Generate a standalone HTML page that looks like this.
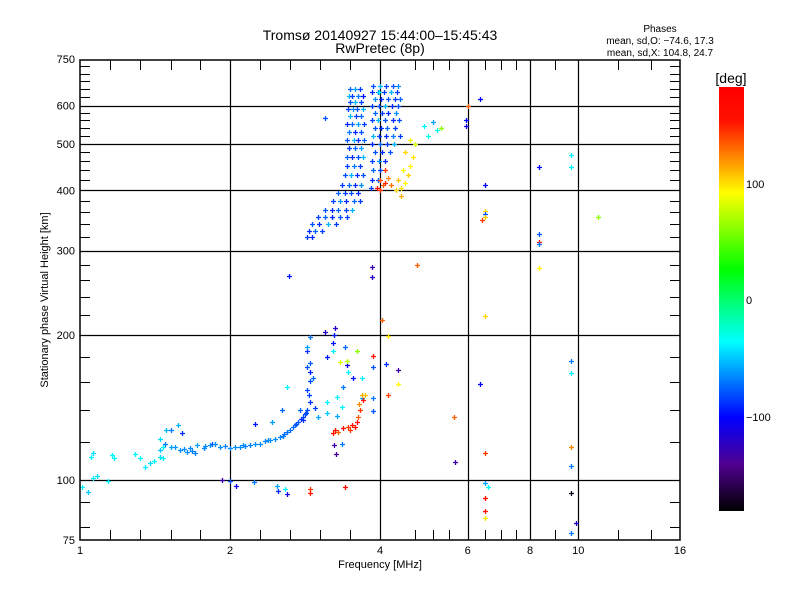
<!DOCTYPE html>
<html><head><meta charset="utf-8"><style>
body{margin:0;background:#fff;}
svg{display:block;font-family:"Liberation Sans",sans-serif;}
</style></head><body>
<svg id="chart" width="800" height="600" viewBox="0 0 800 600">
<defs>
<linearGradient id="cb" x1="0" y1="0" x2="0" y2="1">
<stop offset="0" stop-color="#ff0000"/><stop offset="0.08" stop-color="#ff1000"/>
<stop offset="0.25" stop-color="#ffff00"/><stop offset="0.43" stop-color="#00ff00"/>
<stop offset="0.60" stop-color="#00ffff"/><stop offset="0.78" stop-color="#0000ff"/>
<stop offset="0.89" stop-color="#500090"/><stop offset="1" stop-color="#000000"/>
</linearGradient>
</defs>
<text x="380" y="40" text-anchor="middle" font-size="14">Tromsø 20140927 15:44:00–15:45:43</text>
<text x="380" y="53" text-anchor="middle" font-size="14">RwPretec (8p)</text>
<g font-size="10" text-anchor="middle">
<text x="660" y="32">Phases</text>
<text x="660" y="44">mean, sd,O: −74.6, 17.3</text>
<text x="660" y="56">mean, sd,X: 104.8, 24.7</text>
</g>
<g id="grid"></g>
<g id="marks"></g>
<rect x="80" y="60" width="600" height="480" fill="none" stroke="#000" stroke-width="1.5"/>
<g id="ticks"></g>
<text x="380" y="568" text-anchor="middle" font-size="11">Frequency [MHz]</text>
<text transform="translate(48,300) rotate(-90)" text-anchor="middle" font-size="11">Stationary phase Virtual Height [km]</text>
<rect x="719" y="87" width="25" height="424" fill="url(#cb)"/>
<text x="731" y="83" text-anchor="middle" font-size="14">[deg]</text>
<g font-size="11">
<text x="746" y="188">100</text><text x="746" y="304">0</text><text x="746" y="421">−100</text>
</g>
</svg>
<script>
const xTicks=[1,2,4,6,8,10,16];
const xGrid=[2,4,6,8,10];
const yTicks=[75,100,200,300,400,500,600,750];
const yGrid=[100,200,300,400,500,600];
const lowTrace=[[1.009,96.7,-40],[1.04,94.4,-50],[1.06,101,-40],[1.08,102,-45],[1.14,99.5,-40],[1.05,111.6,-40],[1.06,113.8,-45],[1.16,112.7,-40],[1.17,111,-35],[1.29,113,-40],[1.32,111,-35],[1.35,106.4,-40],[1.38,108.5,-45],[1.41,109.5,-40],[1.45,111.6,-45],[1.47,111,-40],[1.45,115.4,-50],[1.47,117,-40],[1.45,121.7,-45],[1.48,119,-70],[1.49,127,-55],[1.52,127,-70],[1.57,130,-55],[1.60,125,-90],[1.52,117,-60],[1.55,117,-62],[1.59,115.4,-65],[1.64,114.3,-65],[1.70,113.8,-68],[1.72,118,-60],[1.77,116.5,-68],[1.84,119,-80],[1.91,117,-65],[2.0,116.5,-65],[2.09,117,-65],[2.19,118,-68],[2.30,119,-65],[2.41,121,-65],[2.52,123,-68],[2.60,126,-72],[2.67,129,-72],[2.74,132,-78],[2.80,135,-82],[2.86,140,-82],[2.89,145,-88],[2.86,154,-82],[2.89,161,-82],[2.89,168,-92],[2.89,175,-78],[2.86,185,-88],[2.86,189,-60],[2.89,198,-70],[2.80,133,-88],[2.76,140,-75],[1.62,116,-65],[1.68,115,-68],[1.78,117.6,-65],[1.87,119,-65],[1.95,117.6,-68],[2.05,117,-65],[2.14,117.6,-68],[2.24,119,-65],[2.35,120.5,-68],[2.46,121.7,-65],[2.57,124.6,-72],[2.64,127,-72],[2.71,131,-82],[2.78,134,-88],[2.83,137,-82],[1.66,116.5,-66],[1.82,118,-66],[2.12,118,-66],[2.38,121,-66],[2.55,123.5,-70],[2.70,130,-75],[2.84,138,-80],[2.88,150,-85],[2.86,172,-80]];
const lowScatter=[[2.24,131,-95],[2.43,132,-60],[2.54,140,-75],[2.60,156,-40],[2.93,163,-75],[2.96,141,-85],[3.0,135,-60],[3.13,138,-50],[3.13,145,-40],[3.13,180,-95],[3.22,185,-40],[3.22,193,-95],[3.25,207,-120],[3.40,189,-75],[3.45,168,-40],[3.43,173,-110],[3.53,163,-95],[3.68,163,-40],[3.68,148,-60],[3.28,136,-60],[3.36,142,-40],[3.37,156,-70],[3.28,149,-40],[3.23,118,-130],[3.26,113,-135],[3.36,119,-70],[3.10,203,-120],[3.23,200,-95],[1.93,100,-130],[2.0,99.5,-80],[2.06,97,-110],[2.23,99,-70],[2.48,97,-60],[2.50,95,-90],[2.58,95.8,-40],[2.60,93.5,-110],[4.12,174,-90],[4.34,169,-130],[3.87,172,-80],[3.87,148,-70],[3.87,139,-80],[2.63,266,-95],[3.85,277,-130],[3.85,264,-120]];
const lowXTrace=[[3.22,125,150],[3.30,126,130],[3.37,128,160],[3.45,129,140],[3.51,130,150],[3.60,132,160],[3.61,135,130],[3.65,140,140],[3.70,147,150],[3.63,144,120],[3.68,150,110],[3.73,150,105],[3.60,185,60],[3.33,176,80],[3.43,177,70],[3.40,96.7,170],[2.90,95.8,140],[2.90,94,150],[3.25,127,155],[3.48,127,140],[3.56,129,150],[4.03,215,130],[4.16,199,95],[4.34,158,90],[4.16,150,140],[3.87,181,150]];
const fLayerO=[[3.48,650,-75],[3.56,650,-60],[3.64,650,-85],[3.46,630,-55],[3.52,630,-85],[3.62,630,-70],[3.70,630,-95],[3.48,610,-80],[3.56,610,-55],[3.66,610,-85],[3.45,590,-85],[3.53,590,-65],[3.60,590,-80],[3.70,590,-55],[3.48,570,-55],[3.58,570,-85],[3.66,570,-75],[3.44,550,-90],[3.52,550,-75],[3.62,550,-60],[3.72,550,-85],[3.47,530,-70],[3.56,530,-90],[3.66,530,-80],[3.44,510,-80],[3.54,510,-55],[3.62,510,-90],[3.72,510,-75],[3.46,490,-85],[3.56,490,-75],[3.66,490,-60],[3.43,470,-75],[3.52,470,-90],[3.62,470,-80],[3.70,470,-55],[3.44,450,-85],[3.55,450,-70],[3.65,450,-85],[3.40,430,-80],[3.50,430,-55],[3.60,430,-90],[3.70,430,-80],[3.36,410,-85],[3.46,410,-75],[3.56,410,-90],[3.66,410,-65],[3.30,395,-75],[3.40,395,-85],[3.50,395,-80],[3.62,395,-90],[3.22,380,-85],[3.32,380,-65],[3.42,380,-90],[3.54,380,-75],[3.64,380,-85],[3.10,365,-80],[3.20,365,-90],[3.30,365,-75],[3.42,365,-85],[3.52,365,-55],[3.00,352,-85],[3.10,352,-75],[3.20,352,-90],[3.32,352,-80],[3.44,352,-85],[2.92,340,-80],[3.02,340,-90],[3.14,340,-55],[3.26,340,-85],[2.88,330,-90],[2.96,330,-75],[3.06,330,-85],[2.86,320,-85],[2.92,320,-90],[3.88,660,-80],[4.00,660,-55],[4.12,660,-85],[4.25,660,-80],[4.35,660,-65],[3.86,640,-90],[3.96,640,-75],[4.08,640,-85],[4.20,640,-55],[4.32,640,-85],[3.90,620,-65],[4.02,620,-90],[4.15,620,-80],[4.28,620,-85],[4.38,620,-75],[3.86,600,-85],[3.98,600,-80],[4.10,600,-55],[4.22,600,-90],[4.34,600,-80],[3.90,580,-75],[4.04,580,-85],[4.16,580,-90],[4.30,580,-65],[3.86,560,-85],[3.96,560,-55],[4.10,560,-80],[4.24,560,-90],[4.36,560,-80],[3.90,540,-80],[4.02,540,-90],[4.14,540,-75],[4.28,540,-85],[3.88,520,-55],[3.98,520,-85],[4.12,520,-90],[4.24,520,-70],[4.38,520,-85],[3.86,500,-90],[4.00,500,-75],[4.14,500,-85],[4.26,500,-55],[3.90,480,-80],[4.04,480,-90],[4.18,480,-80],[3.86,460,-85],[3.98,460,-65],[4.10,460,-90],[3.88,440,-75],[4.00,440,-85],[3.86,420,-90],[3.96,420,-80],[3.84,405,-85],[3.10,565,-80],[3.99,640,-40],[4.9,545,-40],[5.1,555,-60],[5.2,535,-30],[5.0,520,-30],[5.95,560,-100],[5.95,545,-110],[6.35,620,-100]];
const fLayerX=[[3.95,405,150],[4.0,400,140],[4.05,410,130],[4.1,415,145],[4.0,420,135],[4.15,425,120],[4.1,440,140],[4.2,410,125],[4.3,400,100],[4.4,405,95],[4.5,415,90],[4.55,430,100],[4.45,440,85],[4.6,450,90],[4.65,470,95],[4.5,480,100],[4.7,500,80],[4.4,390,110],[4.35,420,105],[4.6,510,85],[5.3,540,60],[6.0,600,130]];
const strays=[[9.65,475,-40],[8.33,447,-100],[9.65,447,-40],[6.5,410,-100],[6.5,362,100],[6.5,357,-80],[6.5,352,100],[6.4,348,140],[10.95,352,60],[8.33,325,-80],[8.33,312,150],[8.33,310,-70],[4.75,280,130],[8.33,276,90],[6.5,219,100],[9.65,177,-70],[9.65,167,-40],[6.35,158,-100],[5.64,135,130],[6.5,114,140],[5.65,109,-130],[9.65,117,120],[9.65,107,-70],[6.5,98.6,-60],[6.6,96.7,-40],[6.5,91.7,170],[6.5,86.2,150],[6.5,83.4,95],[9.65,93.9,-175],[9.9,81.4,-120],[9.65,77.6,-70]];
const NS="http://www.w3.org/2000/svg";
function xs(f){return 80+150*Math.log2(f);}
function ys(h){return 480-481*Math.log10(h/100);}
const cStops=[[180,[255,0,0]],[150,[255,16,0]],[89,[255,255,0]],[26,[0,255,0]],[-37,[0,255,255]],[-100,[0,0,255]],[-140,[80,0,144]],[-180,[0,0,0]]];
function col(d){for(let i=0;i<cStops.length-1;i++){const a=cStops[i],b=cStops[i+1];if(d<=a[0]&&d>=b[0]){const t=(a[0]-d)/(a[0]-b[0]);const c=a[1].map((v,k)=>Math.round(v+(b[1][k]-v)*t));return`rgb(${c})`;}}return d>180?'#f00':'#000';}
function mk(tag,attrs,parent){const e=document.createElementNS(NS,tag);for(const k in attrs)e.setAttribute(k,attrs[k]);parent.appendChild(e);return e;}
const grid=document.getElementById('grid'),ticks=document.getElementById('ticks'),marks=document.getElementById('marks');
xGrid.forEach(v=>{const x=Math.round(xs(v))+0.5;const l=mk('line',{x1:x,x2:x,y1:60,y2:540,stroke:'#000','stroke-width':1.2},grid);

});
yGrid.forEach(v=>{const y=Math.round(ys(v))+0.5;const l=mk('line',{x1:80,x2:680,y1:y,y2:y,stroke:'#000','stroke-width':1.2},grid);

});
xTicks.forEach(v=>{const t=mk('text',{x:xs(v),y:554,'text-anchor':'middle','font-size':11},ticks);t.textContent=v;

});
yTicks.forEach(v=>{const t=mk('text',{x:75,y:ys(v)+4,'text-anchor':'end','font-size':11},ticks);t.textContent=v;

});
const minorX=[1.15,1.32,1.52,1.74,2.3,2.64,3.03,3.48,4.7,5.1,5.5,6.5,7,7.5,9,12,14];
minorX.forEach(v=>{const x=Math.round(xs(v))+0.5;mk('line',{x1:x,x2:x,y1:60,y2:70,stroke:'#000'},ticks);mk('line',{x1:x,x2:x,y1:530,y2:540,stroke:'#000'},ticks);});
const minorY=[80,90,120,140,160,180,220,240,260,280,320,340,360,380,420,440,460,480,520,540,560,580,625,650,675,700,725];
minorY.forEach(v=>{const y=Math.round(ys(v))+0.5;mk('line',{x1:80,x2:90,y1:y,y2:y,stroke:'#000'},ticks);mk('line',{x1:670,x2:680,y1:y,y2:y,stroke:'#000'},ticks);});
[lowTrace,lowScatter,lowXTrace,fLayerO,fLayerX,strays].forEach(arr=>arr.forEach(p=>{
const x=Math.round(xs(p[0]))+0.5,y=Math.round(ys(p[1]))+0.5;
const e=mk('path',{d:`M${x-2.5} ${y}h5M${x} ${y-2.5}v5`,stroke:col(p[2]),'stroke-width':1.3,fill:'none'},marks);


}));
</script>
</body></html>
